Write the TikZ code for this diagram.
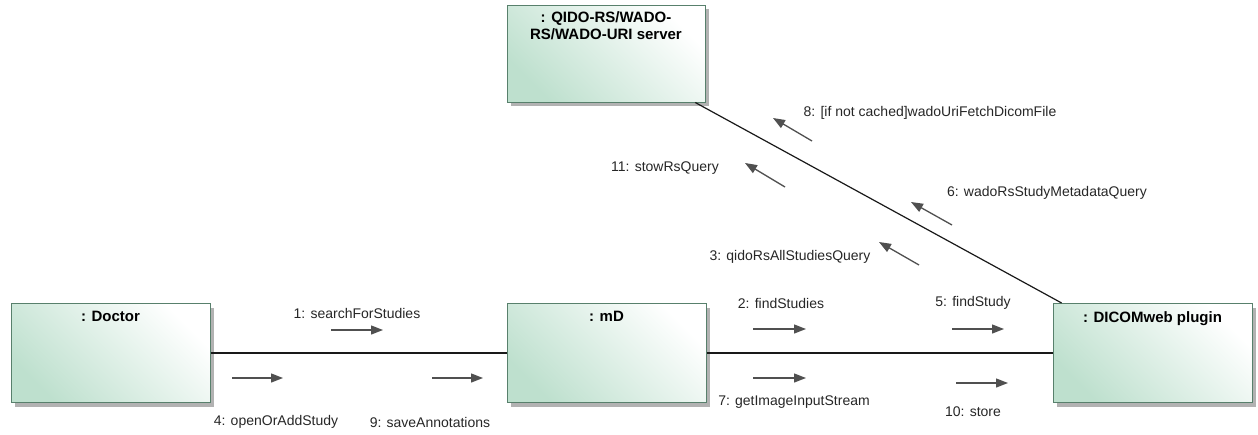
\documentclass[tikz,border=0pt]{standalone}
\usepackage{fontspec}
\setmainfont{Liberation Sans}
\usetikzlibrary{arrows.meta,shadows}
\definecolor{objgreen}{RGB}{190,224,206}
\definecolor{objedge}{RGB}{88,128,108}
\definecolor{msggray}{RGB}{80,80,80}
\tikzset{
  obj/.style={draw=objedge, line width=1pt, top color=white, bottom color=objgreen, shading angle=-45,
    minimum width=199pt, minimum height=99pt,
    general shadow={fill=black!30, shadow xshift=4pt, shadow yshift=-4pt}},
  title/.style={font=\fontsize{15}{17}\selectfont\bfseries, anchor=north, yshift=-5pt, align=center},
  msg/.style={draw=msggray, line width=1.3pt, -{Triangle[length=12pt,width=9pt]}},
  lbl/.style={font=\fontsize{14}{17}\selectfont, text=black!85},
  link/.style={draw=black!90, line width=1.2pt}
}
\begin{document}
\begin{tikzpicture}[x=1pt,y=-1pt]
\useasboundingbox (0,0) rectangle (1258,434);
\node[obj, label={[title]north:{: Doctor}}] (doctor) at (110.5,353) {};
\node[obj, label={[title]north:{: mD}}] (md) at (606.5,353) {};
\node[obj, label={[title]north:{: DICOMweb plugin}}] (plugin) at (1152.5,353) {};
\node[obj, minimum width=198pt, minimum height=97pt,
  label={[title, yshift=1pt]north:{: QIDO-RS/WADO-\\RS/WADO-URI server}}] (server) at (606,53.5) {};
\draw[link] (doctor) -- (md);
\draw[link] (md) -- (plugin);
\draw[link] (server) -- (plugin);
\foreach \k/\a/\b/\c/\d in {1/331/330/383/330, 4/232/378/283/378, 9/432/378/483/378,
    2/753/329/806/329, 7/753/378/806/378, 5/952/329/1004/329, 10/956/383/1008/383,
    8/812/141/773/118, 11/785/187/745/163, 6/952/225/911/202, 3/919/265/879/242} {
  \coordinate (t\k) at (\a,\b);
  \coordinate (h\k) at (\c,\d);
  \draw[msg] (t\k) -- (h\k);
}
\foreach \k/\x/\y/\t in {1/357/313/{1: searchForStudies}, 4/276/422/{4: openOrAddStudy},
    9/430/422/{9: saveAnnotations}, 2/781/303/{2: findStudies}, 7/794/402/{7: getImageInputStream},
    5/973/303/{5: findStudy}, 10/973/412/{10: store}, 8/930/113/{8: [if not cached]wadoUriFetchDicomFile},
    11/665/168/{11: stowRsQuery}, 6/1047/193/{6: wadoRsStudyMetadataQuery}, 3/790/257/{3: qidoRsAllStudiesQuery}}
  \node[lbl] (m\k) at (\x,\y) {\t};
\end{tikzpicture}
\end{document}
